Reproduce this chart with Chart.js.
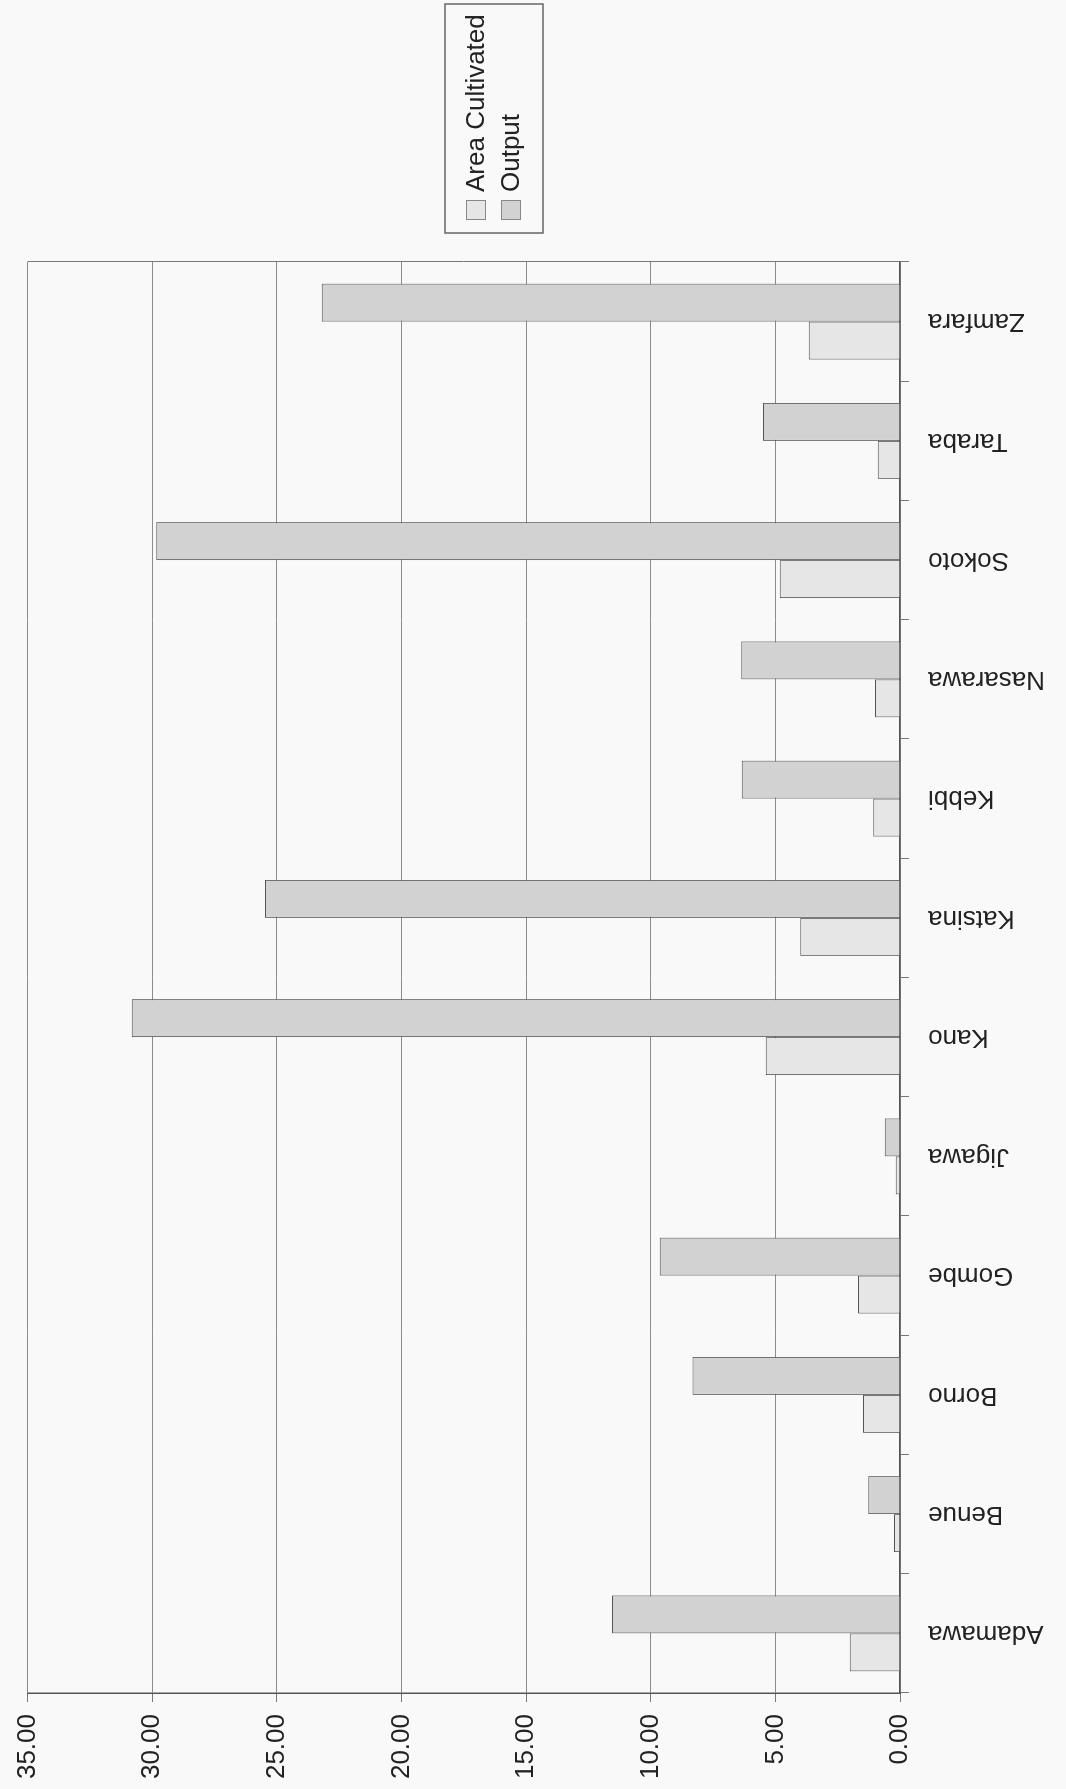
<!DOCTYPE html>
<html>
<head>
<meta charset="utf-8">
<title>Area Cultivated and Output by State</title>
<script src="https://cdn.jsdelivr.net/npm/chart.js@4.4.1/dist/chart.umd.min.js"></script>
<style>
  html, body { margin: 0; padding: 0; background: #f9f9f9; overflow: hidden; }
  /* the scanned chart is turned a quarter turn counter-clockwise */
  #wrap {
    position: absolute; left: 0; top: 0;
    width: 1789px; height: 1066px;
    transform-origin: 0 0;
    transform: translateY(1789px) rotate(-90deg);
  }
</style>
</head>
<body>
<div id="wrap"><canvas id="myChart" width="1789" height="1066"></canvas></div>
<script>
const states = ['Adamawa', 'Benue', 'Borno', 'Gombe', 'Jigawa', 'Kano', 'Katsina', 'Kebbi', 'Nasarawa', 'Sokoto', 'Taraba', 'Zamfara'];
const areaCultivated = [2.02, 0.24, 1.48, 1.69, 0.17, 5.39, 4.00, 1.07, 1.00, 4.82, 0.89, 3.66];
const output = [11.55, 1.27, 8.32, 9.64, 0.61, 30.82, 25.48, 6.35, 6.37, 29.84, 5.50, 23.20];
const valueTicks = [0, 5, 10, 15, 20, 25, 30, 35];

Chart.defaults.font.family = "'Liberation Sans', Arial, sans-serif";
Chart.defaults.color = '#222';

// boxed legend to the right of the plot, as in the original
const boxedLegend = {
    id: 'boxedLegend',
    afterDraw(chart) {
        const c = chart.ctx;
        const area = chart.chartArea;
        const left = area.right + 29;
        const right = left + 229;
        const top = 445;
        const rowH = 35;
        const sets = chart.data.datasets;
        c.save();
        c.strokeStyle = '#666';
        c.lineWidth = 1.5;
        c.strokeRect(left, top, right - left, 98);
        c.font = "26px 'Liberation Sans', Arial, sans-serif";
        c.textBaseline = 'middle';
        c.textAlign = 'left';
        sets.forEach((ds, i) => {
            const cy = top + 31 + i * rowH;
            c.fillStyle = ds.backgroundColor;
            c.fillRect(left + 13, cy - 10, 20, 20);
            c.strokeStyle = '#888';
            c.lineWidth = 1;
            c.strokeRect(left + 13.5, cy - 9.5, 19, 19);
            c.fillStyle = '#222';
            c.fillText(ds.label, left + 41, cy + 1);
        });
        c.restore();
    },
};

const data = {
    labels: states,
    datasets: [
        {
            label: 'Area Cultivated',
            data: areaCultivated,
            backgroundColor: '#e6e6e6',
            borderColor: '#555',
            borderWidth: 1,
        },
        {
            label: 'Output',
            data: output,
            backgroundColor: '#d2d2d2',
            borderColor: '#555',
            borderWidth: 1,
        },
    ],
};

const config = {
    type: 'bar',
    data: data,
    options: {
        responsive: false,
        animation: false,
        categoryPercentage: 0.637,
        barPercentage: 1,
        layout: {
            padding: { top: 21, right: 262, bottom: 0, left: 0 },
        },
        scales: {
            x: {
                grid: {
                    offset: true,
                    color: (ctx) => (ctx.type === 'scale' ? '#777' : 'rgba(0,0,0,0)'),
                    tickColor: '#777',
                    tickLength: 9,
                    lineWidth: 1,
                },
                border: { display: true, color: '#555', width: 1.5 },
                ticks: {
                    autoSkip: false,
                    minRotation: 90,
                    maxRotation: 90,
                    padding: 19,
                    color: '#222',
                    font: { size: 26 },
                },
                afterFit: (scale) => { scale.height = 166; },
            },
            y: {
                min: 0,
                max: 35,
                afterBuildTicks: (scale) => {
                    scale.ticks = valueTicks.map((v) => ({ value: v }));
                },
                grid: {
                    color: '#8c8c8c',
                    tickColor: '#777',
                    tickLength: 9,
                    lineWidth: 1,
                },
                border: { display: true, color: '#555', width: 1.5 },
                ticks: {
                    padding: 12,
                    color: '#222',
                    font: { size: 26 },
                    callback: (v) => Number(v).toFixed(2),
                },
                afterFit: (scale) => { scale.width = 96; },
            },
        },
        plugins: {
            legend: { display: false },
            tooltip: { enabled: false },
            title: { display: false },
        },
    },
    plugins: [boxedLegend],
};

const ctx = document.getElementById('myChart').getContext('2d');
const myChart = new Chart(ctx, config);
</script>
</body>
</html>
